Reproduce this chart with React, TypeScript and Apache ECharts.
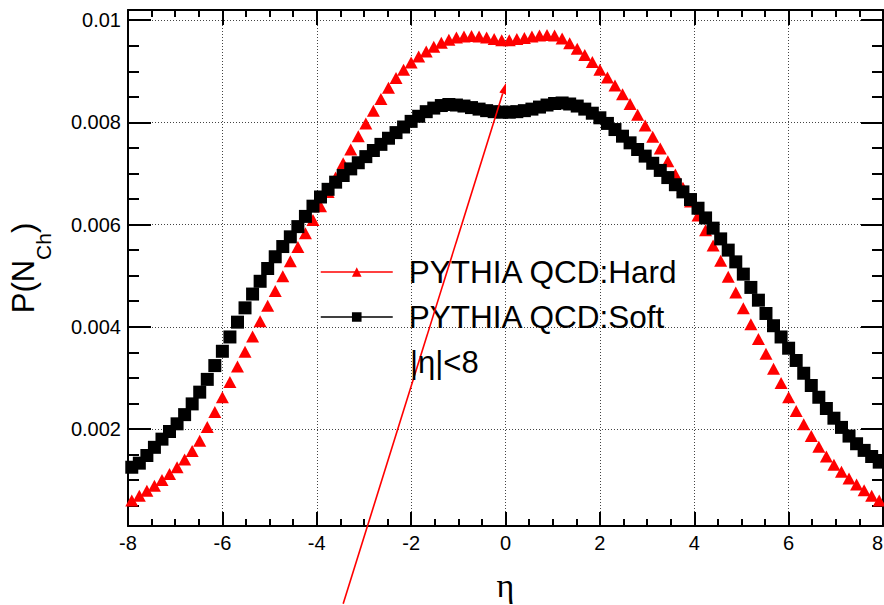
import React, { useEffect, useRef } from "react";
import * as echarts from "echarts";

// Histogram binning: 100 bins from -8 to 8
const ETA_MIN = -8;
const BIN_WIDTH = 0.16;
const N_BINS = 100;
const binCenters: number[] = Array.from({ length: N_BINS }, (_, i) => +(ETA_MIN + BIN_WIDTH * (i + 0.5)).toFixed(2));

// PYTHIA QCD:Hard
const hardValues: number[] = [
  0.00060, 0.00069, 0.00079, 0.00089, 0.00100, 0.00112, 0.00125, 0.00140, 0.00157, 0.00177,
  0.00204, 0.00233, 0.00262, 0.00292, 0.00322, 0.00351, 0.00381, 0.00411, 0.00441, 0.00470,
  0.00499, 0.00528, 0.00556, 0.00583, 0.00609, 0.00636, 0.00664, 0.00692, 0.00720, 0.00747,
  0.00773, 0.00798, 0.00823, 0.00846, 0.00868, 0.00887, 0.00903, 0.00917, 0.00929, 0.00939,
  0.00948, 0.00956, 0.00962, 0.00966, 0.00968, 0.00969, 0.00968, 0.00966, 0.00963, 0.00961,
  0.00961, 0.00963, 0.00965, 0.00968, 0.00970, 0.00971, 0.00970, 0.00964, 0.00955, 0.00944,
  0.00932, 0.00918, 0.00903, 0.00888, 0.00872, 0.00855, 0.00836, 0.00815, 0.00794, 0.00772,
  0.00749, 0.00724, 0.00698, 0.00672, 0.00645, 0.00618, 0.00589, 0.00559, 0.00529, 0.00498,
  0.00467, 0.00436, 0.00405, 0.00376, 0.00347, 0.00318, 0.00290, 0.00262, 0.00235, 0.00209,
  0.00186, 0.00165, 0.00146, 0.00130, 0.00116, 0.00103, 0.00091, 0.00080, 0.00069, 0.00060,
];

// PYTHIA QCD:Soft
const softValues: number[] = [
  0.00125, 0.00133, 0.00148, 0.00164, 0.00180, 0.00195, 0.00210, 0.00228, 0.00249, 0.00272,
  0.00297, 0.00324, 0.00352, 0.00380, 0.00409, 0.00437, 0.00464, 0.00489, 0.00514, 0.00537,
  0.00557, 0.00576, 0.00596, 0.00616, 0.00636, 0.00654, 0.00669, 0.00683, 0.00696, 0.00709,
  0.00721, 0.00733, 0.00745, 0.00757, 0.00769, 0.00780, 0.00791, 0.00802, 0.00812, 0.00821,
  0.00828, 0.00833, 0.00835, 0.00834, 0.00832, 0.00829, 0.00826, 0.00823, 0.00821, 0.00820,
  0.00820, 0.00821, 0.00823, 0.00826, 0.00830, 0.00834, 0.00837, 0.00838, 0.00836, 0.00832,
  0.00826, 0.00818, 0.00809, 0.00798, 0.00786, 0.00773, 0.00760, 0.00747, 0.00734, 0.00720,
  0.00706, 0.00692, 0.00678, 0.00664, 0.00649, 0.00632, 0.00613, 0.00593, 0.00572, 0.00550,
  0.00527, 0.00503, 0.00477, 0.00452, 0.00426, 0.00402, 0.00380, 0.00358, 0.00334, 0.00309,
  0.00285, 0.00262, 0.00240, 0.00221, 0.00203, 0.00186, 0.00171, 0.00158, 0.00146, 0.00135,
];

const seriesNames = ["PYTHIA QCD:Hard", "PYTHIA QCD:Soft"];
const cutLabel = "|η|<8";

// Axes
const X_MIN = -8;
const X_MAX = 8;
const X_INTERVAL = 2;
const Y_MIN = 0.0001;
const Y_MAX = 0.0102;
const yMajorTicks: number[] = [0.002, 0.004, 0.006, 0.008, 0.01];
const yMinorTicks: number[] = [
  0.0005, 0.001, 0.0015, 0.0025, 0.003, 0.0035, 0.0045, 0.005, 0.0055, 0.0065, 0.007, 0.0075,
  0.0085, 0.009, 0.0095,
];

// Annotation arrow (data coordinates)
const arrowTip: [number, number] = [0.01, 0.00877];
const arrowTail: [number, number] = [-3.44, -0.00142];

const FONT = "'Liberation Sans', Arial, Helvetica, sans-serif";

export default function App() {
  const ref = useRef<HTMLDivElement>(null);

  useEffect(() => {
    document.body.style.margin = "0";
    if (!ref.current) return;
    const chart = echarts.init(ref.current, null, { renderer: "svg" });

    const gridLine = { show: true, lineStyle: { color: "#444", width: 1, type: [1, 2] as any } };
    const axisLine = { show: true, onZero: false, lineStyle: { color: "#000", width: 2 } };

    const yCommon = {
      type: "value" as const,
      min: Y_MIN,
      max: Y_MAX,
      gridIndex: 0,
    };

    const option: any = {
      animation: false,
      backgroundColor: "#fff",
      grid: {
        left: 128,
        right: 1,
        top: 10,
        bottom: 79,
        containLabel: false,
        outerBoundsMode: "none",
      },
      xAxis: [
        {
          type: "value",
          min: X_MIN,
          max: X_MAX,
          interval: X_INTERVAL,
          position: "bottom",
          axisLine,
          axisTick: { show: true, inside: true, length: 14, lineStyle: { color: "#000", width: 2 } },
          minorTick: { show: true, splitNumber: 4, length: 7, lineStyle: { color: "#000", width: 2 } },
          splitLine: gridLine,
          axisLabel: {
            show: true,
            margin: 7,
            fontSize: 20,
            color: "#000",
            fontFamily: FONT,
            showMinLabel: true,
            showMaxLabel: true,
            hideOverlap: false,
            alignMaxLabel: "right",
          },
          name: "η",
          nameLocation: "middle",
          nameGap: 42,
          nameMoveOverlap: false,
          nameTextStyle: { fontSize: 34, fontFamily: "'Liberation Serif', 'DejaVu Serif', serif", color: "#000" },
        },
        {
          type: "value",
          min: X_MIN,
          max: X_MAX,
          interval: X_INTERVAL,
          position: "top",
          axisLine,
          axisTick: { show: true, inside: true, length: 15, lineStyle: { color: "#000", width: 2 } },
          minorTick: { show: true, splitNumber: 4, length: 7, lineStyle: { color: "#000", width: 2 } },
          splitLine: { show: false },
          axisLabel: { show: false },
        },
      ],
      yAxis: [
        {
          ...yCommon,
          position: "left",
          axisLine,
          axisTick: {
            show: true,
            inside: true,
            length: 23,
            customValues: yMajorTicks,
            lineStyle: { color: "#000", width: 2 },
          },
          axisLabel: {
            show: true,
            customValues: yMajorTicks,
            margin: 7,
            fontSize: 20,
            color: "#000",
            fontFamily: FONT,
            formatter: (v: number) => String(v),
          },
          splitLine: gridLine,
          name: "{a|P(N}{b|Ch}{a|)}",
          nameLocation: "middle",
          nameRotate: 90,
          nameGap: 74,
          nameMoveOverlap: false,
          nameTextStyle: {
            color: "#000",
            rich: {
              a: { fontSize: 31, fontFamily: FONT, color: "#000" },
              b: { fontSize: 21, fontFamily: FONT, color: "#000", padding: [40, 0, 0, 0] },
            },
          },
        },
        {
          ...yCommon,
          position: "left",
          axisLine: { show: false, onZero: false },
          axisTick: {
            show: true,
            inside: true,
            length: 11,
            customValues: yMinorTicks,
            lineStyle: { color: "#000", width: 2 },
          },
          axisLabel: { show: false },
          splitLine: { show: false },
        },
        {
          ...yCommon,
          position: "right",
          axisLine,
          axisTick: {
            show: true,
            inside: true,
            length: 22,
            customValues: yMajorTicks,
            lineStyle: { color: "#000", width: 2 },
          },
          axisLabel: { show: false },
          splitLine: { show: false },
        },
        {
          ...yCommon,
          position: "right",
          axisLine: { show: false, onZero: false },
          axisTick: {
            show: true,
            inside: true,
            length: 11,
            customValues: yMinorTicks,
            lineStyle: { color: "#000", width: 2 },
          },
          axisLabel: { show: false },
          splitLine: { show: false },
        },
      ],
      legend: {
        orient: "vertical",
        left: 320,
        top: 256,
        padding: 0,
        itemWidth: 72,
        itemHeight: 12,
        itemGap: 13,
        selectedMode: false,
        textStyle: {
          fontSize: 31.5,
          lineHeight: 30,
          fontFamily: FONT,
          color: "#000",
          padding: [0, 0, 0, 11],
        },
        data: [
          { name: seriesNames[0], lineStyle: { color: "#ff0000", width: 1.5, opacity: 1 } },
          { name: seriesNames[1], lineStyle: { color: "#000000", width: 1.5, opacity: 1 } },
        ],
      },
      series: [
        {
          name: seriesNames[0],
          type: "line",
          xAxisIndex: 0,
          yAxisIndex: 0,
          data: binCenters.map((x, i) => [x, hardValues[i]]),
          symbol: "triangle",
          symbolSize: [13, 12],
          showSymbol: true,
          itemStyle: { color: "#ff0000" },
          lineStyle: { width: 0, color: "#ff0000" },
          z: 3,
        },
        {
          name: seriesNames[1],
          type: "line",
          xAxisIndex: 0,
          yAxisIndex: 0,
          data: binCenters.map((x, i) => [x, softValues[i]]),
          symbol: "rect",
          symbolSize: 13,
          showSymbol: true,
          itemStyle: { color: "#000000" },
          lineStyle: { width: 0, color: "#000000" },
          z: 4,
        },
      ],
    };

    chart.setOption(option);

    const tip = chart.convertToPixel({ xAxisIndex: 0, yAxisIndex: 0 }, arrowTip) as number[];
    const tail = chart.convertToPixel({ xAxisIndex: 0, yAxisIndex: 0 }, arrowTail) as number[];
    const dx = tip[0] - tail[0];
    const dy = tip[1] - tail[1];
    const len = Math.sqrt(dx * dx + dy * dy);
    const ux = dx / len;
    const uy = dy / len;
    const headLen = 11;
    const headHalf = 3.5;
    const bx = tip[0] - ux * headLen;
    const by = tip[1] - uy * headLen;
    const px = -uy;
    const py = ux;

    chart.setOption({
      graphic: [
        {
          type: "line",
          shape: { x1: tail[0], y1: tail[1], x2: bx, y2: by },
          style: { stroke: "#ff0000", lineWidth: 1.6 },
          z: 100,
        },
        {
          type: "polygon",
          shape: {
            points: [
              [tip[0], tip[1]],
              [bx + px * headHalf, by + py * headHalf],
              [bx - px * headHalf, by - py * headHalf],
            ],
          },
          style: { fill: "#ff0000" },
          z: 100,
        },
        {
          type: "text",
          left: 410,
          top: 347,
          style: { text: cutLabel, fontSize: 31, fontFamily: FONT, fill: "#000" },
          z: 100,
        },
      ],
    });

    return () => {
      chart.dispose();
    };
  }, []);

  return <div ref={ref} style={{ width: 884, height: 605 }} />;
}
